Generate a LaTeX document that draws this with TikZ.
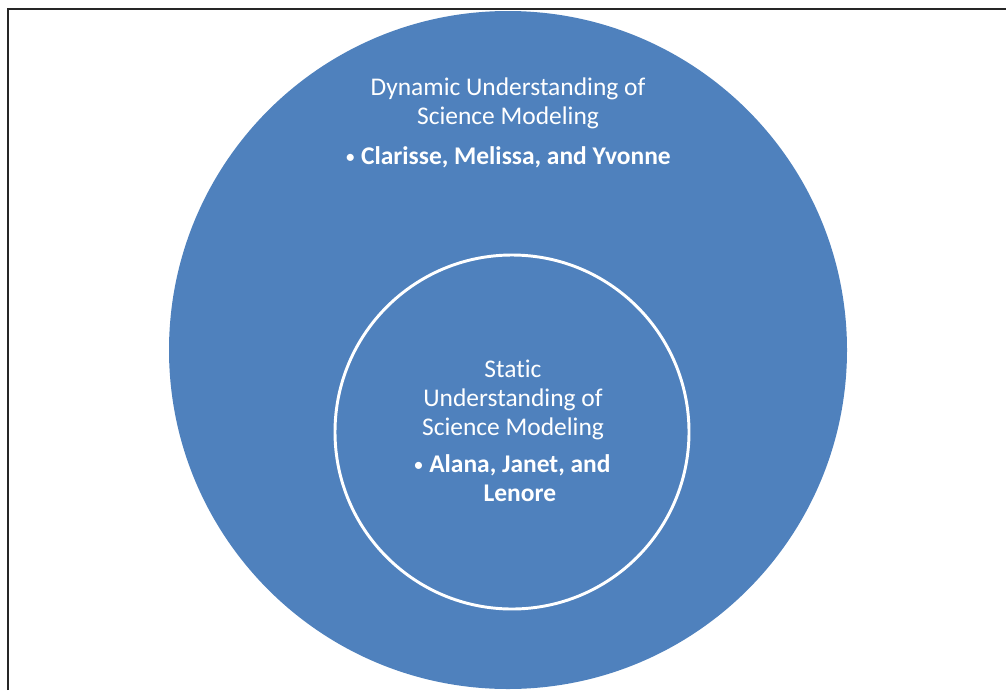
\documentclass[tikz,border=0pt]{standalone}
\usepackage{fontspec}
\setmainfont{Carlito}[Ligatures=CommonOff]
\usepackage{xcolor}
\definecolor{ringblue}{RGB}{79,129,189}
\newcommand{\ringfont}{\fontsize{19.1}{21.75}\selectfont}
\newcommand{\ringbullet}{\raisebox{0.5pt}{\fontsize{15}{15}\selectfont\mdseries\textbullet}}

\begin{document}
\begin{tikzpicture}[x=0.75pt,y=-0.75pt]
\tikzstyle{every node}=[text=white,align=center,inner sep=0pt,font=\ringfont]
\tikzstyle{names}=[font=\ringfont\bfseries]
\useasboundingbox (0,0) rectangle (1006,690);
\draw[line width=1.5pt,black!85] (8,690) -- (8,9) -- (1006,9);
\fill[ringblue] (508,350) circle (339);
\draw[white,line width=2.2pt] (512,432) circle (177);
% outer ring
\node (dyn) at (508,103) {Dynamic Understanding of\\Science Modeling};
\node[names] (dynlist) at (508,157) {\ringbullet\ Clarisse, Melissa, and Yvonne};
% inner ring
\node (stat) at (513,400) {Static\\Understanding of\\Science Modeling};
\node[names] (statlist) at (512,481) {\begin{tabular}{@{}c@{\ }c@{}}
\ringbullet & Alana, Janet, and\\
 & Lenore
\end{tabular}};
\end{tikzpicture}
\end{document}
